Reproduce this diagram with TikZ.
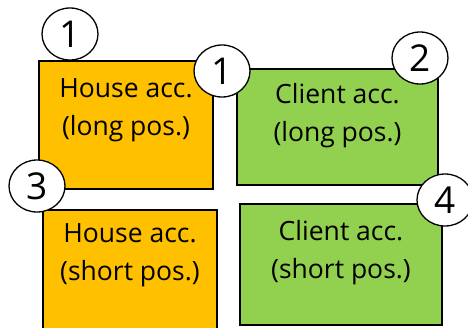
\documentclass[tikz,border=0pt]{standalone}
\usepackage{fontspec}
\setmainfont{Open Sans}
\usetikzlibrary{positioning,shapes.geometric}
\definecolor{houseorange}{HTML}{FFC000}
\definecolor{clientgreen}{HTML}{92D050}
\tikzset{
  acc/.style={rectangle, draw=black, line width=1.6pt, inner sep=0pt},
  house/.style={acc, fill=houseorange},
  client/.style={acc, fill=clientgreen},
  acctext/.style={align=center, inner sep=0pt, font=\fontsize{26.5}{38}\selectfont},
  num/.style={ellipse, draw=black, fill=white, line width=1.3pt, inner sep=0pt,
    minimum width=56pt, minimum height=52pt, font=\fontsize{37}{37}\selectfont}
}
\begin{document}
\begin{tikzpicture}[x=1pt,y=-1pt]
\useasboundingbox (0,0) rectangle (468,327);
% accounts
\node [house, minimum width=174pt, minimum height=128pt] (hl) at (126,125) {};
\node [client, minimum width=201pt, minimum height=116pt] (cl) at (337.5,127) {};
\node [house, minimum width=174pt, minimum height=130pt] (hs) at (130,275) {};
\node [client, minimum width=202pt, minimum height=121pt] (cs) at (341,264.5) {};
\node [acctext, below=18pt of hl.north] {House acc.\\(long pos.)};
\node [acctext, below=15pt of cl.north] {Client acc.\\(long pos.)};
\node [acctext, below=14pt of hs.north] {House acc.\\(short pos.)};
\node [acctext, below=17pt of cs.north] {Client acc.\\(short pos.)};
% steps
\node [num] (n1) at (70,34) {1};
\node [num] (n1b) at (222,71) {1};
\node [num] (n2) at (420,58) {2};
\node [num] (n3) at (37,186) {3};
\node [num] (n4) at (445,200) {4};
\end{tikzpicture}
\end{document}
